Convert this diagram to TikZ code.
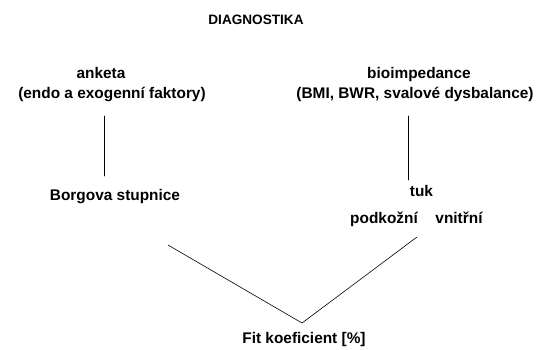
\documentclass[tikz,border=0pt]{standalone}
\usepackage{fontspec}
\setmainfont{Liberation Sans}
\begin{document}
\begin{tikzpicture}[x=1pt,y=-1pt,line cap=round,line join=round,
  every node/.style={inner sep=0pt,anchor=base,font=\bfseries\fontsize{15.4}{18}\selectfont},
  titel/.style={font=\bfseries\fontsize{13.6}{16}\selectfont}]
  \useasboundingbox (0,0) rectangle (536,349);
  % Title and the two sources of data.
  \node[titel] (diag) at (256,24) {DIAGNOSTIKA};
  \node (anketa) at (101,78) {anketa};
  \node (anketa2) at (112,98) {(endo a exogenní faktory)};
  \node (bio) at (419,78) {bioimpedance};
  \node (bio2) at (415,98) {(BMI, BWR, svalové dysbalance)};

  \node (borg) at (115,200) {Borgova stupnice};
  \node (tuk) at (421.5,196) {tuk};
  \node (podk) at (384,223) {podkožní};
  \node (vnit) at (459,223) {vnitřní};
  \node (fit) at (304,343) {Fit koeficient [\%]};

  \coordinate (L1) at (104,116);
  \coordinate (L2) at (104,176);
  \coordinate (R1) at (408,116);
  \coordinate (R2) at (408,180);
  \draw[line width=.7pt] (L1)--(L2);
  \draw[line width=.7pt] (R1)--(R2);

  \coordinate (V1) at (168,245);
  \coordinate (V2) at (302,323);
  \coordinate (V3) at (417,237);
  \draw[line width=.6pt] (V1)--(V2)--(V3);
\end{tikzpicture}
\end{document}
